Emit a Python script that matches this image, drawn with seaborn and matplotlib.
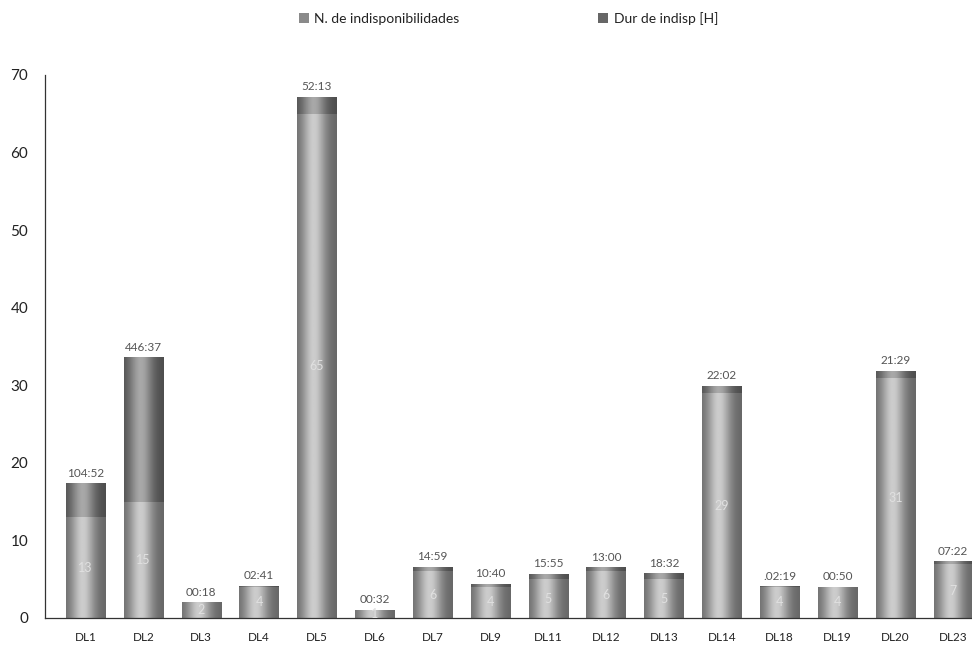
import numpy as np
import pandas as pd
import matplotlib
matplotlib.use("Agg")
import matplotlib.pyplot as plt
import seaborn as sns
from matplotlib.patches import Patch

categories = ["DL1", "DL2", "DL3", "DL4", "DL5", "DL6", "DL7", "DL9", "DL11",
              "DL12", "DL13", "DL14", "DL18", "DL19", "DL20", "DL23"]
n_indisp = [13, 15, 2, 4, 65, 1, 6, 4, 5, 6, 5, 29, 4, 4, 31, 7]
dur_labels = ["104:52", "446:37", "00:18", "02:41", "52:13", "00:32", "14:59",
              "10:40", "15:55", "13:00", "18:32", "22:02", ".02:19", "00:50",
              "21:29", "07:22"]


def hours_to_days(s):
    h, m = s.lstrip(".").split(":")
    return (int(h) + int(m) / 60.0) / 24.0


dur_days = [hours_to_days(s) for s in dur_labels]
df = pd.DataFrame({"cat": categories, "n": n_indisp, "dur": dur_days})
df["total"] = df["n"] + df["dur"]

sns.set_theme(style="white")
plt.rcParams["font.family"] = ["Lato", "DejaVu Sans"]

fig = plt.figure(figsize=(9.72, 6.63), dpi=100)
ax = fig.add_axes([0.0463, 0.0679, 0.96, 0.8190])

bw = 0.68
sns.barplot(data=df, x="cat", y="total", color="#555555", width=bw, ax=ax,
            saturation=1, errorbar=None)
sns.barplot(data=df, x="cat", y="n", color="#999999", width=bw, ax=ax,
            saturation=1, errorbar=None)

# cylinder-like horizontal shading clipped to each bar segment
prof = np.linspace(0, 1, 64)
shade = np.exp(-((prof - 0.42) / 0.30) ** 2)
n = len(categories)
for i, p in enumerate(ax.patches):
    x0, y0 = p.get_x(), p.get_y()
    w, h = p.get_width(), p.get_height()
    if h <= 0:
        continue
    if i < n:
        lo, hi = 0.30, 0.66
    else:
        lo, hi = 0.40, 0.80
    vals = lo + (hi - lo) * shade
    img = np.tile(vals, (2, 1))
    im = ax.imshow(img, cmap="gray", vmin=0, vmax=1, aspect="auto",
                   extent=[x0, x0 + w, y0, y0 + h], zorder=p.get_zorder() + 0.1,
                   interpolation="bilinear")
    im.set_clip_path(p)
    p.set_edgecolor("none")

for i, row in df.iterrows():
    ax.text(i, row["total"] + 0.6, dur_labels[i], ha="center", va="bottom",
            fontsize=8.5, color="#555555", zorder=5)
    ax.text(i, row["n"] / 2, str(row["n"]), ha="center", va="center",
            fontsize=9, color="#e0e0e0", zorder=5)

ax.set_xlim(-0.7, 15.43)
ax.set_ylim(0, 70)
ax.set_yticks(range(0, 71, 10))
ax.set_xlabel("")
ax.set_ylabel("")
ax.tick_params(axis="y", labelsize=11, colors="#222222", length=0, pad=12)
ax.tick_params(axis="x", labelsize=8.5, colors="#222222", length=0, pad=10)
for side in ["top", "right"]:
    ax.spines[side].set_visible(False)
for side in ["left", "bottom"]:
    ax.spines[side].set_visible(True)
    ax.spines[side].set_color("#333333")
    ax.spines[side].set_linewidth(0.9)

handles = [Patch(facecolor="#8a8a8a", edgecolor="none", label="N. de indisponibilidades"),
           Patch(facecolor="#666666", edgecolor="none", label="Dur de indisp [H]")]
fig.legend(handles=handles, loc="center", bbox_to_anchor=(0.523, 0.972), ncol=2,
           frameon=False, fontsize=10, handlelength=0.7, handleheight=0.7,
           handletextpad=0.4, columnspacing=10.0, labelcolor="#222222")

fig.savefig("out.png", dpi=100)
